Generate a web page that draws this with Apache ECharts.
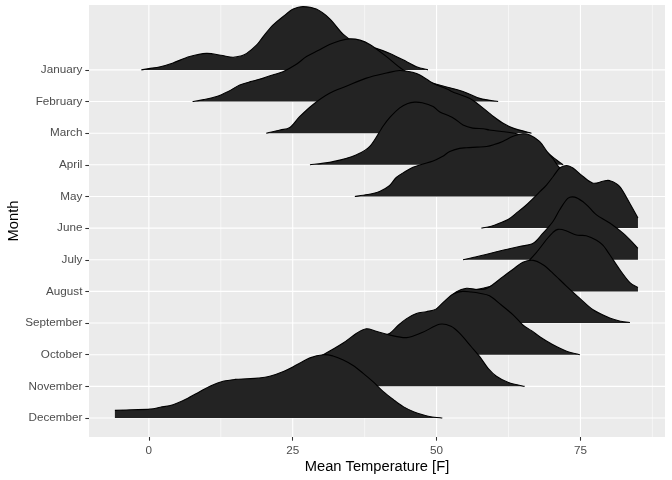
<!DOCTYPE html>
<html><head><meta charset="utf-8">
<script src="https://cdn.jsdelivr.net/npm/echarts@6/dist/echarts.min.js"></script>
<style>html,body{margin:0;padding:0;background:#fff}#c{width:672px;height:480px}</style>
</head><body><div id="c"></div>
<script>
// ---- data ----
const months = ['January','February','March','April','May','June','July','August','September','October','November','December'];
const xTickValues = [0, 25, 50, 75];
const xMinorValues = [12.5, 37.5, 62.5, 87.5];
// [temperature, relative density (peak ~ 1)]
const jan = [[-1.3,0],[0,0.02],[2,0.05],[4.2,0.11],[7.1,0.21],[10,0.26],[12.5,0.23],[14.6,0.20],[16,0.22],[17,0.26],[18.7,0.39],[19.9,0.53],[21.6,0.71],[23.3,0.84],[25.1,0.96],[26.8,1.00],[29.1,0.96],[31.4,0.81],[33.8,0.56],[36,0.42],[38,0.37],[39.5,0.34],[41.9,0.26],[44.8,0.13],[46.5,0.05],[48.5,0]];
const feb = [[7.6,0],[9.5,0.03],[11.8,0.08],[13.8,0.16],[15.8,0.26],[17.9,0.32],[19.9,0.37],[21.5,0.42],[23.3,0.47],[25.5,0.58],[27.4,0.71],[29.5,0.81],[31.4,0.90],[33.2,0.96],[34.9,0.99],[36.7,0.97],[38.4,0.90],[41.3,0.71],[44.2,0.50],[47.7,0.34],[50.5,0.26],[54.6,0.16],[57.5,0.05],[60.7,0]];
const mar = [[20.4,0],[22.8,0.05],[24.5,0.09],[26.2,0.26],[28.5,0.45],[31.4,0.63],[34.3,0.74],[37.8,0.87],[41.3,0.95],[43.6,0.99],[45.9,0.96],[47.1,0.92],[49.4,0.79],[51.7,0.70],[53.4,0.63],[55.2,0.57],[56.3,0.52],[57.5,0.44],[59.8,0.27],[61.5,0.16],[63.3,0.08],[66.5,0]];
const apr = [[28,0],[32,0.05],[36.1,0.16],[38.4,0.29],[40.7,0.61],[42,0.76],[43.6,0.90],[45,0.97],[46.2,0.99],[47.5,0.98],[49.4,0.92],[50.5,0.84],[52.9,0.74],[54.6,0.63],[56.3,0.58],[58.1,0.57],[59.2,0.55],[61,0.53],[63.9,0.49],[66.5,0.39],[68.5,0.25],[70.8,0.08],[72,0]];
const may = [[35.8,0],[38,0.03],[40.1,0.08],[41.8,0.17],[43,0.30],[44.5,0.39],[45.9,0.46],[47.5,0.51],[49.4,0.56],[51,0.63],[52.3,0.71],[54,0.76],[55.2,0.77],[57,0.78],[58.7,0.79],[60,0.82],[61.5,0.87],[63.3,0.95],[65,0.99],[66.2,0.97],[67.9,0.87],[69.2,0.71],[70.2,0.60],[71.2,0.47],[72.6,0.35],[74,0.24],[75.4,0.16],[77,0.08],[79,0.02],[80,0]];
const jun = [[57.8,0],[59.5,0.03],[61,0.08],[62.5,0.14],[63.9,0.24],[65.4,0.35],[66.8,0.47],[68,0.58],[69.1,0.68],[70.3,0.82],[71.4,0.95],[72.6,0.99],[73.7,0.95],[75.4,0.82],[77.2,0.71],[78.9,0.74],[80.1,0.75],[81.8,0.66],[83.6,0.39],[85,0.16]];
const jul = [[54.6,0],[56.5,0.04],[58.4,0.08],[61.5,0.15],[64.4,0.21],[66.8,0.26],[68.5,0.42],[70.2,0.60],[71.4,0.79],[72.8,0.97],[74,0.99],[75.4,0.92],[76.6,0.82],[77.8,0.71],[80.1,0.58],[82.4,0.42],[84.2,0.26],[85,0.18]];
const aug = [[55,0],[58,0.05],[60.4,0.11],[62.7,0.22],[65,0.39],[67.3,0.61],[69.1,0.82],[70.2,0.93],[71.1,0.98],[72.5,0.96],[74.3,0.89],[76,0.88],[77.8,0.81],[78.9,0.73],[80.1,0.58],[81.8,0.35],[83.6,0.14],[85,0.06]];
const sep = [[45,0],[47,0.07],[50,0.20],[52,0.37],[53.4,0.49],[55.2,0.55],[57,0.53],[58.5,0.54],[59.8,0.61],[61.5,0.73],[63.3,0.85],[65,0.96],[66.8,0.99],[68.5,0.92],[70.2,0.79],[72.6,0.58],[74.9,0.39],[77.2,0.21],[80.1,0.08],[82,0.03],[83.6,0.01]];
const oct = [[32,0],[34,0.05],[36,0.11],[38,0.21],[40,0.28],[41.9,0.34],[43.4,0.47],[44.8,0.57],[46.5,0.65],[48.2,0.68],[49.9,0.72],[51.3,0.84],[52.9,0.96],[54.5,1.00],[56,0.99],[57.5,0.97],[59.2,0.93],[61.2,0.79],[63.3,0.63],[65,0.47],[66.5,0.38],[68,0.28],[70,0.17],[72.5,0.06],[74.9,0]];
const nov = [[14,0],[17,0.05],[21,0.13],[24,0.22],[27,0.35],[30.3,0.50],[33.7,0.68],[36.1,0.84],[37.8,0.91],[39.5,0.87],[41.9,0.81],[44.8,0.77],[47.5,0.85],[50.5,0.98],[52.5,0.95],[54,0.84],[56,0.63],[57.5,0.47],[59,0.28],[60.4,0.16],[62.5,0.06],[65.3,0]];
const dec = [[-5.9,0.12],[-3,0.13],[0.2,0.14],[2,0.17],[4.2,0.21],[6.5,0.30],[8.9,0.42],[10.8,0.51],[12.9,0.58],[15,0.61],[17,0.62],[19,0.63],[21,0.66],[23.5,0.74],[25.7,0.84],[28,0.95],[30.3,1.00],[32,0.98],[33.7,0.92],[35.5,0.83],[37.2,0.71],[39,0.57],[40.7,0.42],[42.5,0.29],[44.2,0.18],[46,0.10],[47.6,0.05],[49,0.02],[51,0]];
const ridges = [jan,feb,mar,apr,may,jun,jul,aug,sep,oct,nov,dec];

// ---- layout / style ----
const SCALE = 2.0;            // ridge height in row units for density 1
const X_MIN = -10.4, X_MAX = 89.7, Y_MIN = 0.4, Y_MAX = 14.05;
const FONT = '"Liberation Sans", Arial, Helvetica, sans-serif';
const monthPositions = months.map((m, i) => 12 - i);

function bez(pts, baseY) {
  let d = '';
  for (let i = 0; i < pts.length - 1; i++) {
    const p0 = pts[i - 1] || pts[i], p1 = pts[i], p2 = pts[i + 1], p3 = pts[i + 2] || pts[i + 1];
    const c1x = p1[0] + (p2[0] - p0[0]) / 6, c1y = Math.min(baseY, p1[1] + (p2[1] - p0[1]) / 6);
    const c2x = p2[0] - (p3[0] - p1[0]) / 6, c2y = Math.min(baseY, p2[1] - (p3[1] - p1[1]) / 6);
    d += ' C' + c1x + ',' + c1y + ' ' + c2x + ',' + c2y + ' ' + p2[0] + ',' + p2[1];
  }
  return d;
}

const chart = echarts.init(document.getElementById('c'), null, {renderer: 'canvas'});
chart.setOption({
  animation: false,
  backgroundColor: '#ffffff',
  grid: {left: 89, right: 7, top: 5, bottom: 43, show: true, backgroundColor: '#EBEBEB', borderWidth: 0,
         containLabel: false, outerBoundsMode: 'none'},
  xAxis: {
    type: 'value', min: X_MIN, max: X_MAX,
    name: 'Mean Temperature [F]', nameLocation: 'middle', nameGap: 22, nameMoveOverlap: false,
    nameTextStyle: {color: '#000', fontSize: 14.7, fontFamily: FONT},
    axisLine: {show: false, onZero: false}, splitLine: {show: false},
    axisTick: {show: true, length: 3.7, customValues: xTickValues, lineStyle: {color: '#333333', width: 1.07}},
    axisLabel: {customValues: xTickValues, color: '#4D4D4D', fontSize: 11.7, fontFamily: FONT, margin: 7.5}
  },
  yAxis: {
    type: 'value', min: Y_MIN, max: Y_MAX,
    name: 'Month', nameLocation: 'middle', nameRotate: 90, nameGap: 68, nameMoveOverlap: false,
    nameTextStyle: {color: '#000', fontSize: 14.7, fontFamily: FONT},
    axisLine: {show: false, onZero: false}, splitLine: {show: false},
    axisTick: {show: true, length: 3.7, customValues: monthPositions, lineStyle: {color: '#333333', width: 1.07}},
    axisLabel: {customValues: monthPositions, color: '#4D4D4D', fontSize: 11.7, fontFamily: FONT, margin: 6.6,
      formatter: v => months[12 - Math.round(v)]}
  },
  series: [
    { // vertical grid lines
      type: 'custom', silent: true, z: 1,
      data: xMinorValues.map(v => [v, 0.55]).concat(xTickValues.map(v => [v, 1.1])),
      renderItem: (params, api) => {
        const v = api.value(0), w = api.value(1);
        const a = api.coord([v, Y_MIN]), b = api.coord([v, Y_MAX]);
        return {type: 'line', shape: {x1: a[0], y1: a[1], x2: b[0], y2: b[1]}, style: {stroke: '#ffffff', lineWidth: w}};
      }
    },
    { // horizontal grid lines
      type: 'custom', silent: true, z: 1,
      data: monthPositions.map(p => [0, p]),
      renderItem: (params, api) => {
        const p = api.value(1);
        const a = api.coord([X_MIN, p]), b = api.coord([X_MAX, p]);
        return {type: 'line', shape: {x1: a[0], y1: a[1], x2: b[0], y2: b[1]}, style: {stroke: '#ffffff', lineWidth: 1.1}};
      }
    },
    { // ridges
      type: 'custom', silent: true, z: 2,
      data: ridges.map((r, i) => [i, 12 - i]),
      renderItem: (params, api) => {
        const i = api.value(0);
        const pts = ridges[i];
        const base = 12 - i;
        const top = pts.map(p => api.coord([p[0], base + SCALE * p[1]]));
        const b0 = api.coord([pts[0][0], base]);
        const b1 = api.coord([pts[pts.length - 1][0], base]);
        const curve = bez(top, b0[1]);
        const fillD = 'M' + b0[0] + ',' + b0[1] + ' L' + top[0][0] + ',' + top[0][1] + curve + ' L' + b1[0] + ',' + b1[1] + ' Z';
        const lineD = 'M' + top[0][0] + ',' + top[0][1] + curve;
        return {type: 'group', children: [
          {type: 'path', z2: 2 * i, shape: {pathData: fillD}, style: {fill: '#232323', stroke: null}},
          {type: 'path', z2: 2 * i + 1, shape: {pathData: lineD}, style: {fill: null, stroke: '#000000', lineWidth: 1.1}}
        ]};
      }
    }
  ]
});
</script>
</body></html>
